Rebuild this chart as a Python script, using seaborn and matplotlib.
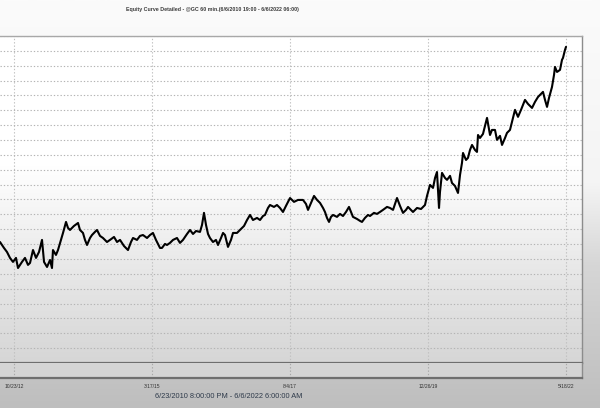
import numpy as np
import matplotlib
matplotlib.use("Agg")
import matplotlib.pyplot as plt
from matplotlib.ticker import MultipleLocator
from matplotlib.colors import LinearSegmentedColormap
import seaborn as sns

sns.set_style("whitegrid")
plt.rcParams['font.family'] = ['Liberation Sans Narrow', 'Liberation Sans', 'DejaVu Sans']

# equity curve (decimal year, equity in $k)
years = [
    2012.566, 2012.635, 2012.687, 2012.739, 2012.791, 2012.843, 2012.878, 2012.947, 2012.999, 2013.051,
    2013.086, 2013.138, 2013.190, 2013.242, 2013.294, 2013.329, 2013.381, 2013.433, 2013.467, 2013.484,
    2013.536, 2013.571, 2013.623, 2013.658, 2013.710, 2013.744, 2013.779, 2013.848, 2013.918, 2013.952,
    2014.004, 2014.039, 2014.074, 2014.126, 2014.160, 2014.212, 2014.247, 2014.299, 2014.351, 2014.420,
    2014.472, 2014.542, 2014.594, 2014.646, 2014.715, 2014.784, 2014.836, 2014.871, 2014.940, 2014.992,
    2015.044, 2015.114, 2015.166, 2015.217, 2015.269, 2015.339, 2015.373, 2015.425, 2015.460, 2015.512,
    2015.564, 2015.633, 2015.685, 2015.737, 2015.807, 2015.859, 2015.911, 2015.963, 2016.032, 2016.067,
    2016.101, 2016.136, 2016.171, 2016.205, 2016.257, 2016.309, 2016.344, 2016.396, 2016.431, 2016.465,
    2016.517, 2016.569, 2016.604, 2016.673, 2016.725, 2016.795, 2016.847, 2016.899, 2016.950, 2017.020,
    2017.072, 2017.124, 2017.158, 2017.210, 2017.245, 2017.314, 2017.366, 2017.418, 2017.470, 2017.522,
    2017.592, 2017.661, 2017.730, 2017.817, 2017.869, 2017.904, 2017.956, 2018.008, 2018.060, 2018.112,
    2018.164, 2018.198, 2018.233, 2018.268, 2018.302, 2018.337, 2018.406, 2018.458, 2018.510, 2018.562,
    2018.614, 2018.649, 2018.683, 2018.753, 2018.805, 2018.839, 2018.891, 2018.943, 2018.978, 2019.047,
    2019.099, 2019.151, 2019.203, 2019.273, 2019.325, 2019.377, 2019.411, 2019.446, 2019.498, 2019.550,
    2019.602, 2019.637, 2019.689, 2019.723, 2019.793, 2019.862, 2019.931, 2019.966, 2020.018, 2020.070,
    2020.105, 2020.139, 2020.174, 2020.191, 2020.226, 2020.278, 2020.313, 2020.365, 2020.399, 2020.451,
    2020.503, 2020.538, 2020.572, 2020.590, 2020.642, 2020.676, 2020.711, 2020.746, 2020.798, 2020.832,
    2020.850, 2020.884, 2020.936, 2021.006, 2021.058, 2021.092, 2021.144, 2021.179, 2021.231, 2021.266,
    2021.318, 2021.352, 2021.404, 2021.439, 2021.491, 2021.543, 2021.595, 2021.664, 2021.716, 2021.786,
    2021.838, 2021.890, 2021.942, 2021.976, 2022.011, 2022.046, 2022.080, 2022.132, 2022.167, 2022.184,
    2022.219, 2022.271, 2022.305, 2022.323, 2022.357, 2022.375,
]
equity = [
    81.4, 77.4, 74.7, 70.7, 68.0, 70.7, 63.9, 68.0, 70.7, 66.0,
    67.3, 76.0, 70.7, 74.7, 82.8, 68.0, 64.6, 69.3, 63.9, 76.0,
    72.7, 76.0, 82.8, 87.5, 94.9, 90.9, 89.5, 92.2, 94.2, 89.5,
    87.5, 82.8, 79.4, 84.1, 86.1, 88.2, 89.5, 85.5, 84.1, 81.4,
    82.8, 84.8, 81.4, 82.8, 78.7, 76.0, 81.4, 84.1, 82.8, 85.5,
    86.1, 84.1, 86.1, 87.5, 82.8, 77.4, 77.4, 80.1, 79.4, 80.8,
    82.8, 84.1, 80.8, 82.8, 86.8, 89.5, 86.8, 88.8, 88.2, 92.9,
    101.0, 92.9, 86.8, 84.1, 81.4, 82.8, 79.4, 84.1, 87.5, 86.1,
    78.1, 82.8, 87.5, 87.5, 89.5, 92.2, 96.2, 99.6, 96.2, 97.6,
    96.2, 98.9, 99.6, 104.3, 106.3, 105.0, 106.3, 104.3, 101.6, 105.7,
    111.0, 108.4, 109.7, 109.7, 107.0, 103.0, 107.7, 112.4, 109.7, 107.7,
    104.3, 101.6, 97.6, 94.9, 98.3, 99.6, 98.3, 100.3, 98.9, 101.6,
    105.0, 101.6, 98.3, 96.9, 95.6, 94.9, 97.6, 99.6, 98.9, 101.0,
    100.3, 101.6, 103.0, 105.0, 104.3, 103.0, 107.0, 111.0, 105.7, 101.0,
    103.0, 105.0, 103.0, 101.6, 104.3, 103.6, 106.3, 112.4, 119.8, 117.8,
    124.5, 128.5, 104.3, 115.1, 127.9, 124.5, 123.2, 125.9, 121.1, 119.1,
    114.4, 126.5, 134.6, 141.3, 136.6, 138.0, 143.3, 146.7, 143.3, 142.0,
    153.4, 151.4, 154.1, 164.9, 153.4, 156.8, 156.8, 150.1, 152.8, 146.7,
    151.4, 154.8, 156.8, 162.2, 170.3, 165.6, 170.3, 177.0, 174.3, 171.6,
    175.7, 179.0, 181.0, 182.4, 177.0, 172.3, 178.3, 185.7, 193.8, 199.2,
    195.8, 197.2, 203.9, 205.3, 210.6, 212.7,
]
tick_years = [2012.809, 2015.205, 2017.589, 2019.984, 2022.375]
tick_labels = ['10/23/12', '3/17/15', '8/4/17', '12/26/19', '5/18/22']

title = 'Equity Curve Detailed - @GC 60 min.(6/6/2010 19:00 - 6/6/2022 06:00)'
range_text = '6/23/2010 8:00:00 PM - 6/6/2022 6:00:00 AM'

fig = plt.figure(figsize=(6, 4.08), dpi=100)

# window background gradient
bg = fig.add_axes([0, 0, 1, 1], zorder=-10)
bg_cmap = LinearSegmentedColormap.from_list(
    'bg', [(0, '#bebebe'), (0.35, '#d6d6d6'), (0.55, '#f4f4f4'), (1, '#fbfbfb')])
bg.imshow(np.linspace(0, 1, 256).reshape(-1, 1), cmap=bg_cmap, aspect='auto',
          origin='lower', extent=[0, 1, 0, 1])
bg.set_axis_off()

ax = fig.add_axes([0, 0.1103, 0.97, 0.8015])
strip = fig.add_axes([0, 0.0735, 0.97, 0.0368], sharex=ax)

# plot area gradient
pa_cmap = LinearSegmentedColormap.from_list(
    'pa', [(0, '#d6d6d6'), (0.3, '#e9e9e9'), (0.6, '#ffffff'), (1, '#ffffff')])
ax.set_facecolor('none')
ax.imshow(np.linspace(0, 1, 256).reshape(-1, 1), cmap=pa_cmap, aspect='auto',
          origin='lower', extent=[0, 1, 0, 1], transform=ax.transAxes, zorder=0)

sns.lineplot(x=years, y=equity, color='black', linewidth=1.5, ax=ax, zorder=3)

ax.set_xlim(2012.566, 2022.652)
ax.set_ylim(0, 220)
ax.yaxis.set_major_locator(MultipleLocator(10))
ax.set_xticks(tick_years)
ax.grid(True, axis='y', color='#b4b4b4', linestyle=(0, (1.2, 1.8)), linewidth=0.8, zorder=1)
ax.grid(True, axis='x', color='#c0c0c0', linestyle=(0, (1.2, 1.8)), linewidth=0.8, zorder=1)
ax.tick_params(left=False, bottom=False, labelleft=False, labelbottom=False)
ax.set_xlabel('')
ax.set_ylabel('')
ax.spines['left'].set_visible(False)
ax.spines['top'].set_color('#a8a8a8')
ax.spines['top'].set_linewidth(1.0)
ax.spines['right'].set_color('#8c8c8c')
ax.spines['right'].set_linewidth(1.0)
ax.spines['bottom'].set_color('#6e6e6e')
ax.spines['bottom'].set_linewidth(1.6)

strip.set_facecolor('#d4d4d4')
strip.set_yticks([])
strip.grid(True, axis='x', color='#a8a8a8', linestyle=(0, (1.2, 1.8)), linewidth=0.8)
strip.grid(False, axis='y')
strip.set_xticks(tick_years)
strip.set_xticklabels(tick_labels)
strip.tick_params(axis='x', length=0, pad=4, labelsize=3.6, labelcolor='#333333')
strip.spines['left'].set_visible(False)
strip.spines['top'].set_visible(False)
strip.spines['right'].set_color('#8c8c8c')
strip.spines['right'].set_linewidth(1.0)
strip.spines['bottom'].set_color('#6e6e6e')
strip.spines['bottom'].set_linewidth(1.6)

fig.text(212 / 600, 1 - 9 / 408, title, ha='center', va='center',
         fontsize=3.8, fontweight='bold', color='#3a3a3a')
fig.text(229 / 600, 1 - 397 / 408, range_text, ha='center', va='center',
         fontsize=5.3, color='#2e3a4a')

fig.savefig('out.png', dpi=100)
